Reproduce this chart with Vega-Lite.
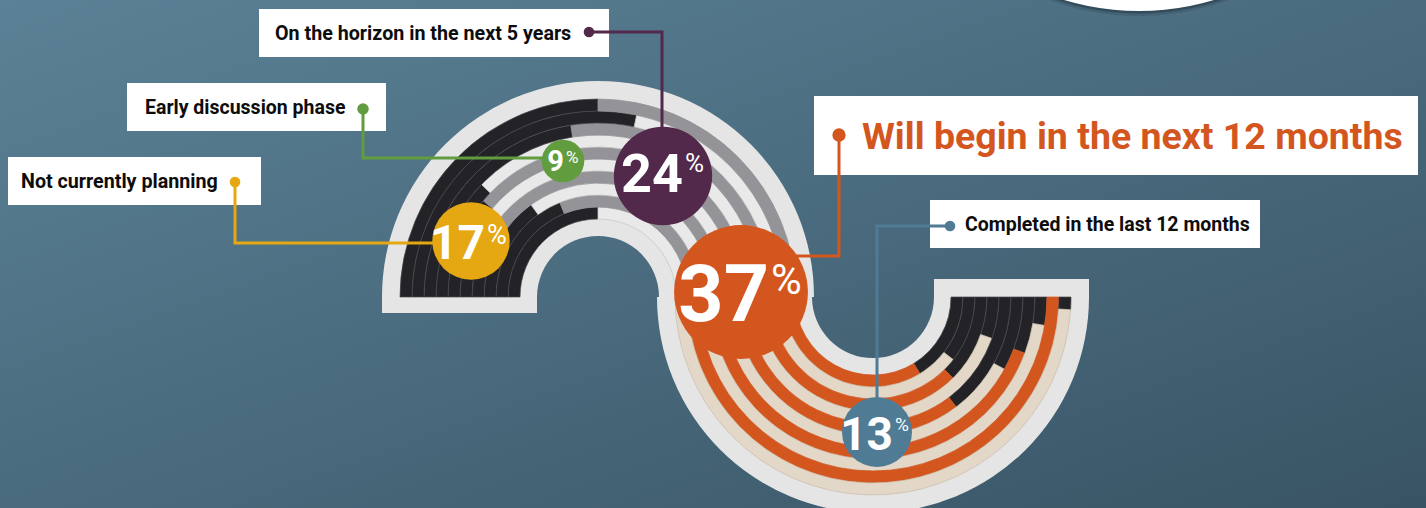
{
  "$schema": "https://vega.github.io/schema/vega-lite/v6.json",
  "width": 1426,
  "height": 508,
  "autosize": "none",
  "padding": 0,
  "background": "#4a6b7e",
  "config": {
    "view": {"stroke": null, "fill": {"gradient": "linear", "x1": 0, "y1": 0, "x2": 1, "y2": 1, "stops": [{"offset": 0, "color": "#5b8196"}, {"offset": 0.5, "color": "#4a6b7e"}, {"offset": 1, "color": "#385464"}]}},
    "axis": {"disable": true},
    "legend": {"disable": true}
  },
  "datasets": {
    "stages": [
      {"stage": 1, "label": "Not currently planning", "pct": 17},
      {"stage": 2, "label": "Early discussion phase", "pct": 9},
      {"stage": 3, "label": "On the horizon in the next 5 years", "pct": 24},
      {"stage": 4, "label": "Will begin in the next 12 months", "pct": 37},
      {"stage": 5, "label": "Completed in the last 12 months", "pct": 13}
    ],
    "arches": [
      {"arch": "upper", "a0": -90, "a1": 90},
      {"arch": "lower", "a0": 90, "a1": 270}
    ],
    "bubble": [
      {"part": "shadow1", "a0": 0, "a1": 360},
      {"part": "shadow2", "a0": 0, "a1": 360},
      {"part": "bubble", "a0": 0, "a1": 360}
    ],
    "rings": [
      {"arch": "upper", "ring": 1, "tone": "black", "a0": -90, "a1": 0},
      {"arch": "upper", "ring": 1, "tone": "light", "a0": 0, "a1": 90},
      {"arch": "upper", "ring": 2, "tone": "black", "a0": -90, "a1": -22},
      {"arch": "upper", "ring": 2, "tone": "gray", "a0": -22, "a1": 90},
      {"arch": "upper", "ring": 3, "tone": "black", "a0": -90, "a1": -36},
      {"arch": "upper", "ring": 3, "tone": "light", "a0": -36, "a1": 90},
      {"arch": "upper", "ring": 4, "tone": "black", "a0": -90, "a1": -56},
      {"arch": "upper", "ring": 4, "tone": "gray", "a0": -56, "a1": 90},
      {"arch": "upper", "ring": 5, "tone": "black", "a0": -90, "a1": -58},
      {"arch": "upper", "ring": 5, "tone": "light", "a0": -58, "a1": 90},
      {"arch": "upper", "ring": 6, "tone": "black", "a0": -90, "a1": -50},
      {"arch": "upper", "ring": 6, "tone": "gray", "a0": -50, "a1": 90},
      {"arch": "upper", "ring": 7, "tone": "black", "a0": -90, "a1": -46},
      {"arch": "upper", "ring": 7, "tone": "light", "a0": -46, "a1": 90},
      {"arch": "upper", "ring": 8, "tone": "black", "a0": -90, "a1": -9},
      {"arch": "upper", "ring": 8, "tone": "gray", "a0": -9, "a1": 90},
      {"arch": "upper", "ring": 9, "tone": "black", "a0": -90, "a1": 12},
      {"arch": "upper", "ring": 9, "tone": "light", "a0": 12, "a1": 90},
      {"arch": "upper", "ring": 10, "tone": "black", "a0": -90, "a1": 0},
      {"arch": "upper", "ring": 10, "tone": "gray", "a0": 0, "a1": 90},
      {"arch": "lower", "ring": 1, "tone": "black", "a0": 90, "a1": 148.5},
      {"arch": "lower", "ring": 1, "tone": "orange", "a0": 148.5, "a1": 270},
      {"arch": "lower", "ring": 2, "tone": "black", "a0": 90, "a1": 128},
      {"arch": "lower", "ring": 2, "tone": "beige", "a0": 128, "a1": 270},
      {"arch": "lower", "ring": 3, "tone": "black", "a0": 90, "a1": 135.4},
      {"arch": "lower", "ring": 3, "tone": "orange", "a0": 135.4, "a1": 270},
      {"arch": "lower", "ring": 4, "tone": "black", "a0": 90, "a1": 109.2},
      {"arch": "lower", "ring": 4, "tone": "beige", "a0": 109.2, "a1": 270},
      {"arch": "lower", "ring": 5, "tone": "black", "a0": 90, "a1": 142.9},
      {"arch": "lower", "ring": 5, "tone": "orange", "a0": 142.9, "a1": 270},
      {"arch": "lower", "ring": 6, "tone": "black", "a0": 90, "a1": 118.8},
      {"arch": "lower", "ring": 6, "tone": "beige", "a0": 118.8, "a1": 270},
      {"arch": "lower", "ring": 7, "tone": "black", "a0": 90, "a1": 110.3},
      {"arch": "lower", "ring": 7, "tone": "orange", "a0": 110.3, "a1": 270},
      {"arch": "lower", "ring": 8, "tone": "black", "a0": 90, "a1": 99.4},
      {"arch": "lower", "ring": 8, "tone": "beige", "a0": 99.4, "a1": 270},
      {"arch": "lower", "ring": 9, "tone": "orange", "a0": 90, "a1": 270},
      {"arch": "lower", "ring": 10, "tone": "black", "a0": 90, "a1": 93.7},
      {"arch": "lower", "ring": 10, "tone": "beige", "a0": 93.7, "a1": 270}
    ]
  },
  "layer": [
    {
      "data": {"name": "bubble"},
      "mark": {"type": "arc", "radius": 261, "radius2": 0},
      "encoding": {
        "x": {"field": "part", "type": "nominal", "scale": {"type": "point", "domain": ["shadow1", "shadow2", "bubble"], "range": [1139, 1139], "padding": 0}},
        "y": {"field": "part", "type": "nominal", "scale": {"type": "point", "domain": ["shadow1", "shadow2", "bubble"], "range": [-245, -250], "padding": 0}},
        "theta": {"field": "a0", "type": "quantitative", "stack": null, "scale": {"type": "linear", "domain": [0, 360], "range": [0, 6.283185307179586], "zero": false, "nice": false}},
        "theta2": {"field": "a1"},
        "color": {"field": "part", "type": "nominal", "scale": {"domain": ["shadow1", "shadow2", "bubble"], "range": ["rgba(15,28,36,0.15)", "rgba(15,28,36,0.3)", "#ffffff"]}}
      }
    },
    {
      "data": {"name": "arches"},
      "mark": {"type": "arc", "radius": 216, "radius2": 61, "color": "#e5e5e5"},
      "encoding": {
        "x": {"field": "arch", "type": "nominal", "scale": {"type": "point", "domain": ["upper", "lower"], "range": [598, 873], "padding": 0}},
        "y": {"field": "arch", "type": "nominal", "scale": {"type": "point", "domain": ["upper", "lower"], "range": [297, 297], "padding": 0}},
        "theta": {"field": "a0", "type": "quantitative", "stack": null, "scale": {"type": "linear", "domain": [0, 360], "range": [0, 6.283185307179586], "zero": false, "nice": false}},
        "theta2": {"field": "a1"}
      }
    },
    {
      "data": {"name": "arches"},
      "mark": {"type": "point", "filled": true, "opacity": 1, "size": 40000, "strokeWidth": 0, "color": "#e5e5e5"},
      "encoding": {
        "x": {"field": "arch", "type": "nominal", "scale": {"type": "point", "domain": ["upper", "lower"], "range": [598, 873], "padding": 0}},
        "y": {"field": "arch", "type": "nominal", "scale": {"type": "point", "domain": ["upper", "lower"], "range": [297, 297], "padding": 0}},
        "shape": {"field": "arch", "type": "nominal", "scale": {"domain": ["upper", "lower"], "range": ["M-2.16,-0.02 L-0.61,-0.02 L-0.61,0.16 L-2.16,0.16 Z", "M0.61,-0.18 L2.16,-0.18 L2.16,0.02 L0.61,0.02 Z"]}}
      }
    },
    {
      "data": {"name": "rings"},
      "mark": {"type": "arc", "radius2Offset": -12, "strokeWidth": 0.7},
      "encoding": {
        "x": {"field": "arch", "type": "nominal", "scale": {"type": "point", "domain": ["upper", "lower"], "range": [598, 873], "padding": 0}},
        "y": {"field": "arch", "type": "nominal", "scale": {"type": "point", "domain": ["upper", "lower"], "range": [297, 297], "padding": 0}},
        "theta": {"field": "a0", "type": "quantitative", "stack": null, "scale": {"type": "linear", "domain": [0, 360], "range": [0, 6.283185307179586], "zero": false, "nice": false}},
        "theta2": {"field": "a1"},
        "radius": {"field": "ring", "type": "quantitative", "scale": {"type": "linear", "domain": [0, 10], "range": [78, 198], "zero": false, "nice": false}},
        "radius2": {"field": "ring"},
        "color": {"field": "tone", "type": "nominal", "scale": {"domain": ["black", "gray", "light", "orange", "beige"], "range": ["#232327", "#949498", "#e9e9ea", "#d4561f", "#e3d7c7"]}},
        "stroke": {"field": "tone", "type": "nominal", "scale": {"domain": ["black", "gray", "light", "orange", "beige"], "range": ["#48484e", "#949498", "#c4c4c6", "#d4561f", "#c9bcab"]}}
      }
    },
    {
      "data": {"name": "stages"},
      "mark": {"type": "point", "filled": true, "opacity": 1, "size": 40000, "strokeWidth": 0, "color": "#ffffff"},
      "encoding": {
        "x": {"field": "stage", "type": "quantitative", "scale": {"type": "linear", "domain": [1, 2, 3, 4, 5], "range": [8, 127, 259, 814, 930], "zero": false, "nice": false}},
        "y": {"field": "stage", "type": "quantitative", "scale": {"type": "linear", "domain": [1, 2, 3, 4, 5], "range": [157, 83, 9, 96, 200], "zero": false, "nice": false}},
        "shape": {"field": "stage", "type": "nominal", "scale": {"domain": [1, 2, 3, 4, 5], "range": ["M0,0 L2.53,0 L2.53,0.48 L0,0.48 Z", "M0,0 L2.59,0 L2.59,0.48 L0,0.48 Z", "M0,0 L3.5,0 L3.5,0.48 L0,0.48 Z", "M0,0 L6.04,0 L6.04,0.79 L0,0.79 Z", "M0,0 L3.3,0 L3.3,0.48 L0,0.48 Z"]}}
      }
    },
    {
      "data": {"name": "stages"},
      "mark": {"type": "point", "filled": false, "opacity": 1, "size": 40000, "strokeWidth": 3},
      "encoding": {
        "x": {"field": "stage", "type": "quantitative", "scale": {"type": "linear", "domain": [1, 2, 3, 4, 5], "range": [235, 363, 589, 839, 950], "zero": false, "nice": false}},
        "y": {"field": "stage", "type": "quantitative", "scale": {"type": "linear", "domain": [1, 2, 3, 4, 5], "range": [182, 109, 32, 135, 226], "zero": false, "nice": false}},
        "shape": {"field": "stage", "type": "nominal", "scale": {"domain": [1, 2, 3, 4, 5], "range": ["M0,0 L0,0.61 L2.2,0.61", "M0,0 L0,0.49 L1.9,0.49", "M0,0 L0.73,0 L0.73,1.2", "M0,0 L0,1.21 L-0.5,1.21", "M0,0 L-0.73,0 L-0.73,1.9"]}},
        "color": {"field": "stage", "type": "nominal", "scale": {"domain": [1, 2, 3, 4, 5], "range": ["#e5a712", "#619d3f", "#52294b", "#d4561f", "#4f7b95"]}}
      }
    },
    {
      "data": {"name": "stages"},
      "mark": {"type": "point", "filled": true, "opacity": 1, "shape": "circle", "strokeWidth": 0},
      "encoding": {
        "x": {"field": "stage", "type": "quantitative", "scale": {"type": "linear", "domain": [1, 2, 3, 4, 5], "range": [235, 363, 589, 839, 950], "zero": false, "nice": false}},
        "y": {"field": "stage", "type": "quantitative", "scale": {"type": "linear", "domain": [1, 2, 3, 4, 5], "range": [182, 109, 32, 135, 226], "zero": false, "nice": false}},
        "size": {"field": "stage", "type": "quantitative", "scale": {"type": "linear", "domain": [1, 2, 3, 4, 5], "range": [113, 133, 113, 177, 113], "zero": false, "nice": false}},
        "color": {"field": "stage", "type": "nominal", "scale": {"domain": [1, 2, 3, 4, 5], "range": ["#e5a712", "#619d3f", "#52294b", "#d4561f", "#4f7b95"]}}
      }
    },
    {
      "data": {"name": "stages"},
      "mark": {"type": "text", "font": "Roboto", "fontWeight": "bold", "align": "left", "baseline": "alphabetic"},
      "encoding": {
        "x": {"field": "stage", "type": "quantitative", "scale": {"type": "linear", "domain": [1, 2, 3, 4, 5], "range": [21, 145, 275, 862, 965], "zero": false, "nice": false}},
        "y": {"field": "stage", "type": "quantitative", "scale": {"type": "linear", "domain": [1, 2, 3, 4, 5], "range": [188, 114, 40, 149, 231], "zero": false, "nice": false}},
        "size": {"field": "stage", "type": "quantitative", "scale": {"type": "linear", "domain": [1, 2, 3, 4, 5], "range": [19.7, 19.5, 19.7, 37.5, 19.5], "zero": false, "nice": false}},
        "color": {"field": "stage", "type": "nominal", "scale": {"domain": [1, 2, 3, 4, 5], "range": ["#0d0d0d", "#0d0d0d", "#0d0d0d", "#d4561f", "#0d0d0d"]}},
        "text": {"field": "label", "type": "nominal"}
      }
    },
    {
      "data": {"name": "stages"},
      "mark": {"type": "point", "filled": true, "opacity": 1, "shape": "circle", "strokeWidth": 0},
      "encoding": {
        "x": {"field": "stage", "type": "quantitative", "scale": {"type": "linear", "domain": [1, 2, 3, 4, 5], "range": [471, 563, 663, 741, 877], "zero": false, "nice": false}},
        "y": {"field": "stage", "type": "quantitative", "scale": {"type": "linear", "domain": [1, 2, 3, 4, 5], "range": [241, 161, 176, 292, 432], "zero": false, "nice": false}},
        "size": {"field": "pct", "type": "quantitative", "scale": {"type": "linear", "domain": [9, 13, 17, 24, 37], "range": [1810, 4902, 5999, 9677, 17908], "zero": false, "nice": false}},
        "color": {"field": "stage", "type": "nominal", "scale": {"domain": [1, 2, 3, 4, 5], "range": ["#e5a712", "#619d3f", "#52294b", "#d4561f", "#4f7b95"]}}
      }
    },
    {
      "data": {"name": "stages"},
      "mark": {"type": "text", "font": "Roboto", "fontWeight": "bold", "align": "right", "baseline": "alphabetic", "color": "#ffffff"},
      "encoding": {
        "x": {"field": "stage", "type": "quantitative", "scale": {"type": "linear", "domain": [1, 2, 3, 4, 5], "range": [485, 564, 683, 769, 893], "zero": false, "nice": false}},
        "y": {"field": "stage", "type": "quantitative", "scale": {"type": "linear", "domain": [1, 2, 3, 4, 5], "range": [259, 171, 191.7, 320.6, 450.4], "zero": false, "nice": false}},
        "size": {"field": "stage", "type": "quantitative", "scale": {"type": "linear", "domain": [1, 2, 3, 4, 5], "range": [48, 29, 54, 79, 46], "zero": false, "nice": false}},
        "text": {"field": "pct", "type": "quantitative"}
      }
    },
    {
      "data": {"name": "stages"},
      "mark": {"type": "text", "font": "Roboto", "fontWeight": "normal", "align": "left", "baseline": "alphabetic", "color": "#ffffff"},
      "encoding": {
        "x": {"field": "stage", "type": "quantitative", "scale": {"type": "linear", "domain": [1, 2, 3, 4, 5], "range": [487, 566, 685, 771, 895], "zero": false, "nice": false}},
        "y": {"field": "stage", "type": "quantitative", "scale": {"type": "linear", "domain": [1, 2, 3, 4, 5], "range": [244.2, 162.5, 171.8, 294.3, 431.2], "zero": false, "nice": false}},
        "size": {"field": "stage", "type": "quantitative", "scale": {"type": "linear", "domain": [1, 2, 3, 4, 5], "range": [27, 17, 26, 42, 19], "zero": false, "nice": false}},
        "text": {"value": "%"}
      }
    }
  ],
  "resolve": {"scale": {"x": "independent", "y": "independent", "size": "independent", "color": "independent", "shape": "independent", "theta": "independent", "radius": "independent", "stroke": "independent"}}
}
